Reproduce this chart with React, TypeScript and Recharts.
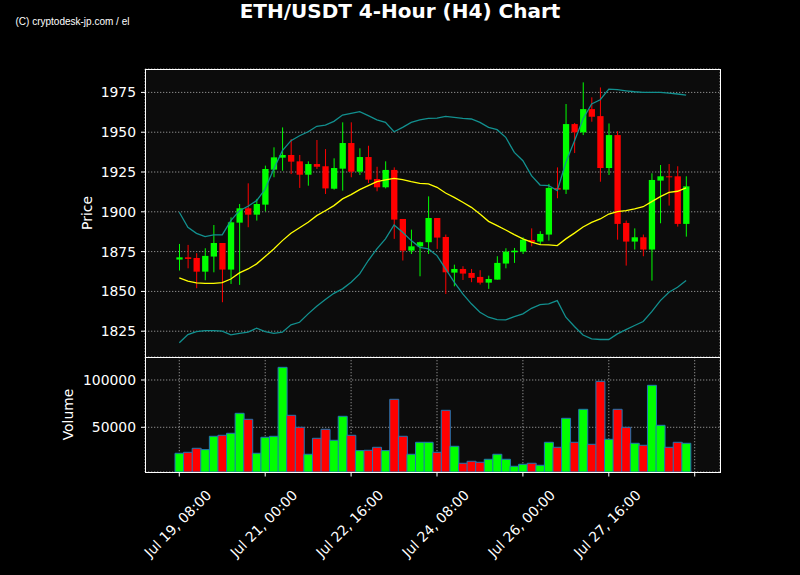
import React from 'react';
import { ComposedChart, Bar, Line, XAxis, YAxis, CartesianGrid, Cell } from 'recharts';

const tickLabels = ['Jul 19, 08:00', 'Jul 21, 00:00', 'Jul 22, 16:00', 'Jul 24, 08:00', 'Jul 26, 00:00', 'Jul 27, 16:00'];

const openP = [
  1870.0, 1871.4, 1871.0, 1862.4, 1871.9, 1880.4, 1863.7, 1893.2, 1902.2, 1898.2,
  1904.5, 1926.5, 1934.0, 1935.7, 1931.7, 1923.3, 1930.0, 1928.6, 1914.5, 1927.1,
  1943.2, 1925.2, 1934.4, 1920.6, 1915.4, 1926.3, 1895.5, 1875.6, 1878.3, 1880.9,
  1896.1, 1884.2, 1861.8, 1864.1, 1861.6, 1859.1, 1855.5, 1857.4, 1867.5, 1874.6,
  1875.0, 1882.3, 1881.3, 1885.7, 1915.0, 1913.9, 1955.1, 1949.9, 1964.5, 1960.1,
  1927.5, 1948.2, 1893.0, 1881.3, 1884.0, 1876.3, 1919.6, 1922.3, 1922.3, 1892.4,
];
const highP = [
  1879.8, 1879.2, 1874.0, 1877.1, 1891.7, 1880.4, 1896.5, 1904.9, 1917.9, 1908.1,
  1929.0, 1940.5, 1953.0, 1945.7, 1935.7, 1931.7, 1945.1, 1939.4, 1933.6, 1956.2,
  1956.2, 1939.9, 1941.5, 1928.3, 1931.7, 1927.9, 1895.5, 1888.8, 1881.3, 1909.7,
  1896.1, 1885.7, 1866.8, 1865.8, 1864.1, 1863.3, 1859.9, 1872.1, 1877.1, 1877.3,
  1884.0, 1889.6, 1887.8, 1917.5, 1927.9, 1967.7, 1955.8, 1981.3, 1971.9, 1978.1,
  1955.5, 1950.7, 1894.5, 1889.6, 1885.7, 1924.2, 1929.4, 1930.0, 1928.6, 1922.3,
];
const lowP = [
  1863.1, 1864.5, 1852.0, 1857.0, 1862.0, 1843.2, 1854.7, 1854.1, 1890.3, 1894.5,
  1900.3, 1921.7, 1925.8, 1923.7, 1915.0, 1916.4, 1926.9, 1911.2, 1913.9, 1913.3,
  1921.7, 1923.1, 1918.1, 1912.9, 1914.7, 1883.0, 1869.4, 1873.5, 1859.5, 1873.5,
  1876.7, 1848.4, 1853.2, 1857.2, 1855.8, 1854.3, 1851.6, 1857.4, 1864.5, 1867.9,
  1873.5, 1878.3, 1879.4, 1881.9, 1908.5, 1911.2, 1936.9, 1948.2, 1956.6, 1918.9,
  1923.1, 1882.5, 1866.2, 1876.3, 1872.1, 1856.8, 1892.8, 1903.9, 1890.7, 1884.4,
];
const closeP = [
  1871.4, 1870.4, 1862.4, 1872.3, 1880.4, 1863.7, 1893.4, 1902.2, 1898.2, 1904.9,
  1926.9, 1934.2, 1935.7, 1931.5, 1923.3, 1930.0, 1928.3, 1914.7, 1927.5, 1943.2,
  1925.2, 1934.4, 1920.2, 1915.4, 1926.3, 1895.1, 1875.6, 1878.3, 1880.9, 1896.1,
  1883.8, 1862.0, 1864.1, 1861.2, 1858.5, 1855.5, 1857.8, 1867.9, 1875.0, 1875.6,
  1882.5, 1880.9, 1886.1, 1915.0, 1913.9, 1955.1, 1949.9, 1964.5, 1959.7, 1927.5,
  1948.2, 1892.4, 1881.3, 1884.0, 1876.3, 1920.0, 1922.3, 1921.9, 1892.4, 1916.0,
];
const volumes = [
  22540, 23590, 27810, 26410, 40490, 41550, 43660, 64790, 58450, 22540,
  39440, 40490, 113380, 62680, 50000, 21480, 38380, 47890, 36270, 61620,
  41550, 25350, 25710, 28870, 25350, 79580, 40490, 21480, 34160, 34160,
  23590, 67960, 29930, 11970, 14090, 13030, 16200, 21480, 16200, 8800,
  10910, 11970, 9860, 34160, 28870, 59510, 34160, 69010, 32040, 98590,
  37320, 69010, 50000, 33100, 30990, 94370, 52110, 28870, 34160, 33100,
];
const bbUpper = [
  1899.7, 1890.3, 1886.5, 1884.4, 1885.5, 1885.5, 1894.5, 1900.7, 1903.5, 1907.0,
  1914.3, 1926.9, 1938.4, 1944.7, 1947.8, 1950.3, 1953.7, 1954.5, 1956.8, 1960.8,
  1961.8, 1962.9, 1960.4, 1957.8, 1956.2, 1950.3, 1953.0, 1956.2, 1957.8, 1958.7,
  1958.9, 1959.9, 1959.3, 1958.7, 1958.3, 1956.2, 1953.0, 1951.6, 1946.8, 1937.3,
  1932.1, 1922.7, 1916.8, 1916.4, 1913.3, 1931.0, 1944.5, 1958.3, 1967.7, 1970.4,
  1977.1, 1976.7, 1976.0, 1975.4, 1975.0, 1975.0, 1975.0, 1974.6, 1974.0, 1973.3,
];
const bbMid = [
  1858.5, 1856.4, 1855.3, 1855.1, 1855.1, 1855.5, 1857.8, 1861.6, 1864.1, 1867.3,
  1871.9, 1876.7, 1881.9, 1886.5, 1890.0, 1893.4, 1897.6, 1900.7, 1903.9, 1908.1,
  1910.8, 1913.9, 1916.4, 1918.9, 1920.0, 1921.0, 1920.2, 1918.9, 1917.9, 1917.5,
  1915.4, 1911.8, 1909.1, 1906.0, 1902.8, 1898.6, 1894.0, 1891.3, 1888.6, 1885.7,
  1883.0, 1880.9, 1879.4, 1879.2, 1878.8, 1883.0, 1886.6, 1890.5, 1893.4, 1895.5,
  1898.6, 1900.1, 1900.7, 1901.8, 1903.2, 1906.4, 1909.5, 1912.2, 1912.9, 1915.0,
];
const bbLower = [
  1817.7, 1822.9, 1824.8, 1825.4, 1825.4, 1825.0, 1822.7, 1823.7, 1824.4, 1826.9,
  1824.8, 1823.7, 1824.4, 1829.0, 1830.6, 1835.9, 1840.7, 1844.9, 1848.8, 1851.6,
  1855.8, 1861.0, 1869.4, 1876.7, 1883.0, 1891.7, 1887.1, 1881.9, 1877.7, 1876.7,
  1872.5, 1864.1, 1855.8, 1848.4, 1842.2, 1836.9, 1833.8, 1832.3, 1832.1, 1834.2,
  1835.9, 1839.4, 1841.7, 1842.2, 1844.2, 1833.8, 1828.0, 1822.6, 1820.2, 1819.8,
  1819.8, 1823.3, 1826.0, 1828.6, 1831.1, 1837.3, 1844.2, 1849.5, 1852.6, 1856.8,
];
const priceTicks = [1825, 1850, 1875, 1900, 1925, 1950, 1975];
const volumeTicks = [50000, 100000];

// one extra empty slot at the end so that the last (unlabelled) tick exists
const rows = Array.from({ length: openP.length + 1 }, (_, i) => {
  if (i >= openP.length) return { i };
  return {
    i,
    open: openP[i],
    high: highP[i],
    low: lowP[i],
    close: closeP[i],
    range: [lowP[i], highP[i]],
    vol: volumes[i],
    up: closeP[i] >= openP[i],
    bbU: bbUpper[i],
    bbM: bbMid[i],
    bbL: bbLower[i],
  };
});

const UP = '#00ff00';
const DOWN = '#ff0000';
const FONT = 'DejaVu Sans';
const BAND = '#12908f';

const Candle = (props: any) => {
  const { x, y, width, height, payload } = props;
  if (!payload || payload.open == null) return null;
  const { open, close, high, low } = payload;
  const top = Math.min(y, y + height);
  const h = Math.abs(height);
  const range = high - low;
  const toY = (v: number) => (range === 0 ? top : top + ((high - v) / range) * h);
  const color = close >= open ? UP : DOWN;
  const cx = x + width / 2;
  const bTop = toY(Math.max(open, close));
  const bBot = toY(Math.min(open, close));
  const bw = width * 0.7;
  return (
    <g>
      <line x1={cx} x2={cx} y1={top} y2={top + h} stroke={color} strokeWidth={1} />
      <rect x={cx - bw / 2} y={bTop} width={bw} height={Math.max(1, bBot - bTop)} fill={color} />
    </g>
  );
};

const XTick = (props: any) => {
  const { x, y, payload } = props;
  const label = tickLabels[Math.round(Number(payload.value) / 10)];
  if (!label || Number(payload.value) % 10 !== 0) return null;
  const cx = x - 1.5;
  const cy = y + 45;
  return (
    <text
      x={cx}
      y={cy}
      textAnchor="middle"
      dominantBaseline="central"
      fill="#ffffff"
      fontSize={13.9}
      fontFamily={FONT}
      transform={`rotate(-45 ${cx} ${cy})`}
    >
      {label}
    </text>
  );
};

const gridProps = {
  stroke: '#8c8c8c',
  strokeDasharray: '1.3 1.7',
  fill: '#0c0c0c',
  fillOpacity: 1,
};

export default function App() {
  return (
    <div style={{ position: 'fixed', left: 0, top: 0, width: 800, height: 575, background: '#000', overflow: 'hidden' }}>
      <div style={{ position: 'absolute', left: 0, top: 0 }}>
        <ComposedChart width={800} height={360} data={rows} margin={{ top: 69, right: 80, bottom: 0, left: 85 }} barCategoryGap={0}>
          <CartesianGrid {...gridProps} />
          <XAxis dataKey="i" type="category" padding={{ left: 30, right: 21 }} interval={9} height={3} tick={false} tickLine={false} axisLine={false} />
          <YAxis
            type="number"
            domain={[1808.8, 1989.7]}
            allowDataOverflow
            ticks={priceTicks}
            width={60}
            axisLine={false}
            tickSize={4}
            tickMargin={5}
            tickLine={{ stroke: '#ffffff' }}
            tick={{ fill: '#ffffff', fontSize: 13.9, fontFamily: FONT }}
          />
          <Bar dataKey="range" shape={<Candle />} isAnimationActive={false} />
          <Line dataKey="bbU" stroke={BAND} strokeWidth={1.3} dot={false} isAnimationActive={false} />
          <Line dataKey="bbL" stroke={BAND} strokeWidth={1.3} dot={false} isAnimationActive={false} />
          <Line dataKey="bbM" stroke="#ffff00" strokeWidth={1.3} dot={false} isAnimationActive={false} />
        </ComposedChart>
      </div>
      <div style={{ position: 'absolute', left: 0, top: 357 }}>
        <ComposedChart width={800} height={218} data={rows} margin={{ top: 0, right: 80, bottom: 0, left: 85 }} barCategoryGap={0}>
          <CartesianGrid {...gridProps} />
          <XAxis
            dataKey="i"
            type="category"
            padding={{ left: 30, right: 21 }}
            interval={9}
            height={103}
            axisLine={false}
            tickSize={4.5}
            tickMargin={2}
            tickLine={{ stroke: '#ffffff' }}
            tick={<XTick />}
          />
          <YAxis
            type="number"
            domain={[2750, 124300]}
            allowDataOverflow
            ticks={volumeTicks}
            width={60}
            axisLine={false}
            tickSize={4}
            tickMargin={5}
            tickLine={{ stroke: '#ffffff' }}
            tick={{ fill: '#ffffff', fontSize: 13.9, fontFamily: FONT }}
          />
          <Bar dataKey="vol" stroke="#1f77b4" strokeWidth={1} isAnimationActive={false}>
            {rows.map((r: any) => (
              <Cell key={r.i} fill={r.up ? UP : DOWN} />
            ))}
          </Bar>
        </ComposedChart>
      </div>
      <svg width={800} height={575} style={{ position: 'absolute', left: 0, top: 0, pointerEvents: 'none' }}>
        <text x={15.5} y={25} fill="#ffffff" fontSize={10} fontFamily="Liberation Sans">(C) cryptodesk-jp.com / el</text>
        <text x={400} y={17.8} textAnchor="middle" fill="#ffffff" fontSize={20} fontWeight="bold" fontFamily={FONT}>ETH/USDT 4-Hour (H4) Chart</text>
        <text x={92} y={213} textAnchor="middle" fill="#ffffff" fontSize={13.9} fontFamily={FONT} transform="rotate(-90 92 213)">Price</text>
        <text x={73} y={414.5} textAnchor="middle" fill="#ffffff" fontSize={13.9} fontFamily={FONT} transform="rotate(-90 73 414.5)">Volume</text>
        <rect x={145.5} y={69.5} width={575} height={288} fill="none" stroke="#ffffff" strokeWidth={1} />
        <rect x={145.5} y={357.5} width={575} height={115} fill="none" stroke="#ffffff" strokeWidth={1} />
      </svg>
    </div>
  );
}
